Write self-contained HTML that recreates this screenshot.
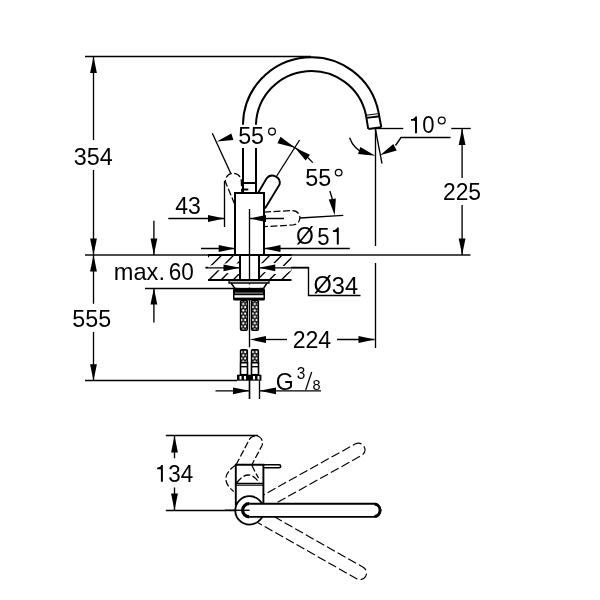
<!DOCTYPE html>
<html><head><meta charset="utf-8"><style>
html,body{margin:0;padding:0;background:#fff;}
svg{display:block;font-family:"Liberation Sans",sans-serif;}
#w{will-change:transform;width:600px;height:600px;}
</style></head><body><div id="w">
<svg width="600" height="600" viewBox="0 0 600 600">
<rect width="600" height="600" fill="#fff"/>
<line x1="85" y1="56.5" x2="311" y2="56.5" stroke="#000" stroke-width="1.35" />
<line x1="93.5" y1="56.5" x2="93.5" y2="140" stroke="#000" stroke-width="1.35" />
<line x1="93.5" y1="170" x2="93.5" y2="255" stroke="#000" stroke-width="1.35" />
<polygon points="93.50,56.50 96.90,73.00 90.10,73.00" fill="#000"/>
<polygon points="93.50,255.00 90.10,238.50 96.90,238.50" fill="#000"/>
<text x="73.81" y="164.60" font-size="24.60" textLength="39.00" lengthAdjust="spacingAndGlyphs">354</text>
<line x1="85" y1="255" x2="470.5" y2="255" stroke="#111" stroke-width="1.3" />
<line x1="93.5" y1="255" x2="93.5" y2="303.75" stroke="#000" stroke-width="1.35" />
<line x1="93.5" y1="332" x2="93.5" y2="380.5" stroke="#000" stroke-width="1.35" />
<polygon points="93.50,255.00 96.90,271.50 90.10,271.50" fill="#000"/>
<polygon points="93.50,380.75 90.10,364.25 96.90,364.25" fill="#000"/>
<text x="72.27" y="326.60" font-size="24.60" textLength="38.83" lengthAdjust="spacingAndGlyphs">555</text>
<line x1="85" y1="380.5" x2="237" y2="380.5" stroke="#000" stroke-width="1.35" />
<line x1="153.9" y1="220.7" x2="153.9" y2="255" stroke="#000" stroke-width="1.35" />
<polygon points="153.90,255.00 150.50,238.50 157.30,238.50" fill="#000"/>
<line x1="153.9" y1="288" x2="153.9" y2="322.5" stroke="#000" stroke-width="1.35" />
<polygon points="153.90,288.00 157.30,304.50 150.50,304.50" fill="#000"/>
<line x1="145" y1="288.5" x2="236" y2="288.5" stroke="#000" stroke-width="1.35" />
<text x="113.85" y="280.40" font-size="24.60" textLength="51.10" lengthAdjust="spacingAndGlyphs">max.</text>
<text x="168.77" y="280.40" font-size="24.60" textLength="25.08" lengthAdjust="spacingAndGlyphs">60</text>
<line x1="168.3" y1="218.5" x2="224.5" y2="218.5" stroke="#000" stroke-width="1.35" />
<polygon points="224.50,218.50 208.00,221.90 208.00,215.10" fill="#000"/>
<line x1="224.5" y1="181" x2="224.5" y2="227" stroke="#000" stroke-width="1.35" />
<text x="175.24" y="213.90" font-size="24.60" textLength="25.64" lengthAdjust="spacingAndGlyphs">43</text>
<line x1="249.5" y1="218.5" x2="284" y2="218.5" stroke="#000" stroke-width="1.35" />
<polygon points="249.50,218.50 266.00,215.10 266.00,221.90" fill="#000"/>
<line x1="249.5" y1="209" x2="249.5" y2="347.3" stroke="#000" stroke-width="1.35" />
<line x1="249.5" y1="375" x2="249.5" y2="399" stroke="#000" stroke-width="1.35" />
<line x1="201" y1="248.5" x2="235.2" y2="248.5" stroke="#000" stroke-width="1.35" />
<polygon points="235.20,248.50 218.70,251.90 218.70,245.10" fill="#000"/>
<line x1="264" y1="248.5" x2="349.8" y2="248.5" stroke="#000" stroke-width="1.35" />
<polygon points="264.00,248.50 280.50,245.10 280.50,251.90" fill="#000"/>
<text x="295.98" y="244.30" font-size="24.60" textLength="17.89" lengthAdjust="spacingAndGlyphs">Ø</text>
<text x="317.21" y="244.60" font-size="24.60" textLength="12.31" lengthAdjust="spacingAndGlyphs">5</text>
<path d="M338.80,227.50 V244.50 H336.80 V232.09 C335.60,231.75 334.10,231.92 332.90,231.92 V230.22 C335.50,230.05 336.80,228.69 337.10,227.50 Z" fill="#000"/>
<line x1="205.6" y1="267.5" x2="240" y2="267.5" stroke="#000" stroke-width="1.35" />
<polygon points="240.00,267.50 223.50,270.90 223.50,264.10" fill="#000"/>
<polyline points="259,267.5 308.5,267.5 308.5,295.5 360.5,295.5" fill="none" stroke="#000" stroke-width="1.35"/>
<polygon points="259.00,267.50 275.50,264.10 275.50,270.90" fill="#000"/>
<text x="313.56" y="293.40" font-size="24.60" textLength="18.34" lengthAdjust="spacingAndGlyphs">Ø</text>
<text x="331.86" y="293.60" font-size="24.60" textLength="26.20" lengthAdjust="spacingAndGlyphs">34</text>
<line x1="375.5" y1="128.3" x2="375.5" y2="246" stroke="#000" stroke-width="1.35" />
<line x1="375.5" y1="263" x2="375.5" y2="348" stroke="#000" stroke-width="1.35" />
<line x1="266" y1="339.5" x2="287" y2="339.5" stroke="#000" stroke-width="1.35" />
<polygon points="249.50,339.50 266.00,336.10 266.00,342.90" fill="#000"/>
<line x1="337" y1="339.5" x2="374.4" y2="339.5" stroke="#000" stroke-width="1.35" />
<polygon points="375.00,339.50 358.50,342.90 358.50,336.10" fill="#000"/>
<text x="292.64" y="347.70" font-size="24.60" textLength="38.62" lengthAdjust="spacingAndGlyphs">224</text>
<line x1="215.5" y1="390.8" x2="249.5" y2="390.8" stroke="#000" stroke-width="1.35" />
<polygon points="249.50,390.80 233.00,394.20 233.00,387.40" fill="#000"/>
<line x1="259.5" y1="390.8" x2="321" y2="390.8" stroke="#000" stroke-width="1.35" />
<polygon points="259.50,390.80 276.00,387.40 276.00,394.20" fill="#000"/>
<line x1="249.5" y1="380.7" x2="249.5" y2="399" stroke="#000" stroke-width="1.35" />
<line x1="259.5" y1="380.7" x2="259.5" y2="399" stroke="#000" stroke-width="1.35" />
<text x="275.85" y="389.50" font-size="24.60" textLength="17.95" lengthAdjust="spacingAndGlyphs">G</text>
<text x="296.63" y="378.60" font-size="15.60" textLength="8.58" lengthAdjust="spacingAndGlyphs">3</text>
<line x1="305.7" y1="390" x2="311.7" y2="372" stroke="#000" stroke-width="1.25" />
<text x="312.42" y="389.90" font-size="15.10" textLength="8.05" lengthAdjust="spacingAndGlyphs">8</text>
<line x1="462.1" y1="128.5" x2="462.1" y2="178" stroke="#000" stroke-width="1.35" />
<line x1="462.1" y1="205" x2="462.1" y2="255" stroke="#000" stroke-width="1.35" />
<polygon points="462.10,128.50 465.50,145.00 458.70,145.00" fill="#000"/>
<polygon points="462.10,255.00 458.70,238.50 465.50,238.50" fill="#000"/>
<text x="442.96" y="199.80" font-size="24.60" textLength="38.12" lengthAdjust="spacingAndGlyphs">225</text>
<line x1="375.3" y1="128.5" x2="403.25" y2="128.5" stroke="#000" stroke-width="1.35" />
<line x1="451.25" y1="128.5" x2="470.75" y2="128.5" stroke="#000" stroke-width="1.35" />
<path d="M417.00,116.40 V133.30 H415.00 V120.96 C413.80,120.62 412.20,120.79 411.00,120.79 V119.10 C413.60,118.94 415.00,117.58 415.30,116.40 Z" fill="#000"/>
<text x="422.22" y="133.40" font-size="24.60" textLength="12.28" lengthAdjust="spacingAndGlyphs">0</text>
<circle cx="441.75" cy="120.5" r="3.4" fill="none" stroke="#000" stroke-width="1.3"/>
<polyline points="450.5,137.5 401,137.5 395.5,145.5" fill="none" stroke="#000" stroke-width="1.35"/>
<line x1="375.3" y1="128.3" x2="382" y2="163.7" stroke="#000" stroke-width="1.35" />
<path d="M349.55,137.67 A27.4,27.4 0 0 0 365.93,154.05" fill="none" stroke="#000" stroke-width="1.35"/>
<polygon points="375.30,155.70 358.05,153.99 360.34,146.95" fill="#000"/>
<polygon points="380.06,155.28 393.27,144.07 396.75,150.60" fill="#000"/>
<line x1="212.3" y1="133.3" x2="230.7" y2="173.3" stroke="#000" stroke-width="1.35" />
<polygon points="216.87,141.54 231.35,133.41 233.39,139.90" fill="#000"/>
<text x="238.17" y="143.70" font-size="24.60" textLength="25.92" lengthAdjust="spacingAndGlyphs">55</text>
<circle cx="272" cy="131.6" r="3.4" fill="none" stroke="#000" stroke-width="1.3"/>
<line x1="299.6" y1="140" x2="276.7" y2="176" stroke="#000" stroke-width="1.35" />
<path d="M279.00,139.91 A84.8,84.8 0 0 1 312.82,162.64" fill="none" stroke="#000" stroke-width="1.35"/>
<polygon points="294.94,147.69 277.43,143.15 280.58,136.68" fill="#000"/>
<polygon points="294.94,147.69 310.03,154.73 305.64,160.44" fill="#000"/>
<text x="305.37" y="185.50" font-size="24.60" textLength="25.97" lengthAdjust="spacingAndGlyphs">55</text>
<circle cx="338.65" cy="172.6" r="3.3" fill="none" stroke="#000" stroke-width="1.3"/>
<path d="M329.84,191.01 A84.8,84.8 0 0 1 333.51,204.87" fill="none" stroke="#000" stroke-width="1.35"/>
<polygon points="334.69,215.31 328.72,199.61 335.84,198.56" fill="#000"/>
<line x1="300" y1="218" x2="343.3" y2="215.3" stroke="#000" stroke-width="1.35" />
<path d="M243,124.7 V123.9 A68.4,68 0 0 1 378.5,112.1 L381.3,127.2" stroke="#000" stroke-width="2" fill="none" />
<path d="M243,193 V148" stroke="#000" stroke-width="2" fill="none" />
<path d="M256,124.7 V123.9 A55.6,55.4 0 0 1 365.8,114.2 L368.2,128.9" stroke="#000" stroke-width="2" fill="none" />
<path d="M256,193 V148" stroke="#000" stroke-width="2" fill="none" />
<path d="M368.3,128.9 L381.3,127.2" stroke="#000" stroke-width="2" fill="none" />
<path d="M366,115.2 L379.5,113.5" stroke="#000" stroke-width="1.1" fill="none" />
<path d="M366.5,117.9 L380,116.2" stroke="#000" stroke-width="1.9" fill="none" />
<path d="M243,183 H256" stroke="#000" stroke-width="2" fill="none" />
<path d="M243,189.5 H248.3" stroke="#000" stroke-width="2" fill="none" />
<path d="M235,255 V193 H264 V255" stroke="#000" stroke-width="2" fill="none" />
<path d="M258.5,192.3 L266.5,178.5 A7.4,7.4 0 0 1 279.6,184.5 L265,208.5" stroke="#000" stroke-width="1.9" fill="none" />
<path d="M234.6,204 L225.3,181.5 A8,8 0 0 1 241.3,181 L241.8,192" stroke="#000" stroke-width="1.25" fill="none" stroke-dasharray="7 2.5"/>
<path d="M264,212.1 L292.5,210.6 A7,7 0 0 1 292.9,225 L264,226.7" stroke="#000" stroke-width="1.25" fill="none" stroke-dasharray="7 2.5"/>
<clipPath id="hc"><path d="M208,255 H240 V280.4 H208 Z M258.75,255 H291.5 V280.4 H258.75 Z"/></clipPath>
<g clip-path="url(#hc)"><path d="M197.66,255 L172.26,280.4 M209.73,255 L184.33,280.4 M221.80,255 L196.40,280.4 M233.87,255 L208.47,280.4 M245.94,255 L220.54,280.4 M258.01,255 L232.61,280.4 M270.08,255 L244.68,280.4 M282.15,255 L256.75,280.4 M294.22,255 L268.82,280.4 M306.29,255 L280.89,280.4 M318.36,255 L292.96,280.4 M330.43,255 L305.03,280.4" stroke="#000" stroke-width="1.35"/><polygon points="208,266 220,263.5 240,263.5 240,274 230,274 220,270.3 208,270.3" fill="#fff"/><polygon points="258.75,263.5 272,262.4 284,266.1 291.5,266.1 291.5,270.2 285,274 275,274 264,272 258.75,272" fill="#fff"/></g>
<line x1="205.6" y1="267.8" x2="240" y2="267.8" stroke="#000" stroke-width="1.35" />
<polygon points="240.00,267.80 223.50,271.20 223.50,264.40" fill="#000"/>
<line x1="258.75" y1="267.8" x2="308" y2="267.8" stroke="#000" stroke-width="1.35" />
<polygon points="258.75,267.80 275.25,264.40 275.25,271.20" fill="#000"/>
<path d="M208,255 H291.5" stroke="#000" stroke-width="2" fill="none" />
<path d="M208,280 H291.5" stroke="#000" stroke-width="2" fill="none" />
<path d="M240,255 V280 M259,255 V280" stroke="#000" stroke-width="2" fill="none" />
<path d="M229,280.6 H269 V283 H229 Z" stroke="#000" stroke-width="1.3" fill="#fff" />
<path d="M231,283 L235,288.5 H263.5 L267,283" stroke="#000" stroke-width="1.5" fill="none" />
<rect x="233" y="288.3" width="32" height="12.2" rx="1.5" fill="#000"/>
<rect x="235" y="292.5" width="28" height="1.2" fill="#888"/>
<rect x="234.5" y="295.2" width="29" height="2.4" fill="#fff"/>
<rect x="239.5" y="284.5" width="19.5" height="3" fill="#fff"/>
<pattern id="br" x="2" y="0" width="3.8" height="6.4" patternUnits="userSpaceOnUse"><rect width="3.8" height="6.4" fill="#000"/><path d="M0,-1.71 L1.55,0 L0,1.71 L-1.55,0 Z M3.8,-1.71 L5.35,0 L3.8,1.71 L2.25,0 Z M0,4.70 L1.55,6.4 L0,8.11 L-1.55,6.4 Z M3.8,4.70 L5.35,6.4 L3.8,8.11 L2.25,6.4 Z M1.9,1.49 L3.45,3.2 L1.9,4.91 L0.35,3.2 Z" fill="#fff"/></pattern>
<rect x="240.5" y="300.5" width="6.9" height="29.8" rx="1.2" fill="url(#br)" stroke="#000" stroke-width="1.4"/>
<rect x="240.5" y="349.6" width="6.9" height="13.1" rx="1.2" fill="url(#br)" stroke="#000" stroke-width="1.4"/>
<rect x="240.5" y="362.7" width="7" height="12" fill="#fff" stroke="#000" stroke-width="1.6"/>
<rect x="241" y="366" width="6" height="1.4" fill="#000"/>
<rect x="251.5" y="300.5" width="6.9" height="29.8" rx="1.2" fill="url(#br)" stroke="#000" stroke-width="1.4"/>
<rect x="251.5" y="349.6" width="6.9" height="13.1" rx="1.2" fill="url(#br)" stroke="#000" stroke-width="1.4"/>
<rect x="251.5" y="362.7" width="7" height="12" fill="#fff" stroke="#000" stroke-width="1.6"/>
<rect x="252" y="366" width="6" height="1.4" fill="#000"/>
<rect x="237" y="374.7" width="24.4" height="6" fill="#000"/>
<rect x="239.5" y="376" width="2" height="3.5" fill="#fff"/>
<rect x="244" y="376" width="2" height="3.5" fill="#fff"/>
<rect x="253" y="376" width="2" height="3.5" fill="#fff"/>
<rect x="257.5" y="376" width="2" height="3.5" fill="#fff"/>
<line x1="165.8" y1="435.5" x2="258" y2="435.5" stroke="#000" stroke-width="1.35" />
<line x1="165.8" y1="510.5" x2="249.5" y2="510.5" stroke="#000" stroke-width="1.35" />
<line x1="174.5" y1="435.5" x2="174.5" y2="458.3" stroke="#000" stroke-width="1.35" />
<polygon points="174.50,435.50 177.90,452.50 171.10,452.50" fill="#000"/>
<line x1="174.5" y1="487.5" x2="174.5" y2="510.5" stroke="#000" stroke-width="1.35" />
<polygon points="174.50,510.50 171.10,493.50 177.90,493.50" fill="#000"/>
<path d="M162.90,465.00 V481.80 H160.90 V469.54 C159.70,469.20 158.30,469.37 157.10,469.37 V467.69 C159.70,467.52 160.90,466.18 161.20,465.00 Z" fill="#000"/>
<text x="168.30" y="481.80" font-size="24.60" textLength="24.92" lengthAdjust="spacingAndGlyphs">34</text>
<path d="M246.29,504.53 L355.07,443.98 A6.6,6.6 0 0 1 361.49,455.52 L252.71,516.07" stroke="#000" stroke-width="1.15" fill="none" stroke-dasharray="9 3.2"/>
<path d="M252.76,504.56 L363.19,567.29 A6.6,6.6 0 0 1 356.67,578.77 L246.24,516.04" stroke="#000" stroke-width="1.15" fill="none" stroke-dasharray="9 3.2"/>
<path d="M236,465 L249.46,439.26 A7,7 0 0 1 261.86,445.74 L251.75,465 Q255,472 258.5,478" stroke="#000" stroke-width="1.25" fill="none" stroke-dasharray="7 2.5"/>
<path d="M235.8,465 Q217,478 233.7,491.5" stroke="#000" stroke-width="1.25" fill="none" stroke-dasharray="7 2.5"/>
<path d="M235.8,503 V465 H263.4 V503 Z" fill="#fff"/>
<circle cx="249.5" cy="510.4" r="14.2" fill="#fff"/>
<rect x="249" y="503.7" width="131" height="13.2" fill="#fff"/>
<path d="M236.6,483 Q248.8,467 259.3,483" stroke="#000" stroke-width="1.25" fill="none" stroke-dasharray="7 2.5"/>
<path d="M251.75,465 Q255,472 258.5,478" stroke="#000" stroke-width="1.25" fill="none" stroke-dasharray="7 2.5"/>
<path d="M235.8,505.5 V464.8 H263.4 V503.3" stroke="#000" stroke-width="1.9" fill="none" />
<path d="M263.4,464.8 H279.2 A1.45,1.45 0 0 1 279.2,467.7 H263.4" stroke="#000" stroke-width="1.6" fill="none" />
<path d="M235.8,483.3 H263.4 M235.8,485.2 H263.4" stroke="#000" stroke-width="1.3" fill="none" />
<circle cx="249.5" cy="510.4" r="14.2" fill="none" stroke="#000" stroke-width="1.8"/>
<rect x="249" y="503.7" width="131" height="13.2" fill="#fff"/>
<path d="M249.2,503.7 H373.8 A6.6,6.6 0 0 1 373.8,516.9 H249.2" stroke="#000" stroke-width="1.9" fill="none" />
<path d="M249.2,503.7 A6.6,6.6 0 0 0 249.2,516.9" stroke="#000" stroke-width="3.2" fill="none" />
<path d="M374.6,504.1 A6.25,6.25 0 0 1 374.6,516.5" stroke="#000" stroke-width="3.0" fill="none" />
<line x1="225" y1="510.25" x2="249.6" y2="510.25" stroke="#000" stroke-width="1.35" />
</svg></div></body></html>
